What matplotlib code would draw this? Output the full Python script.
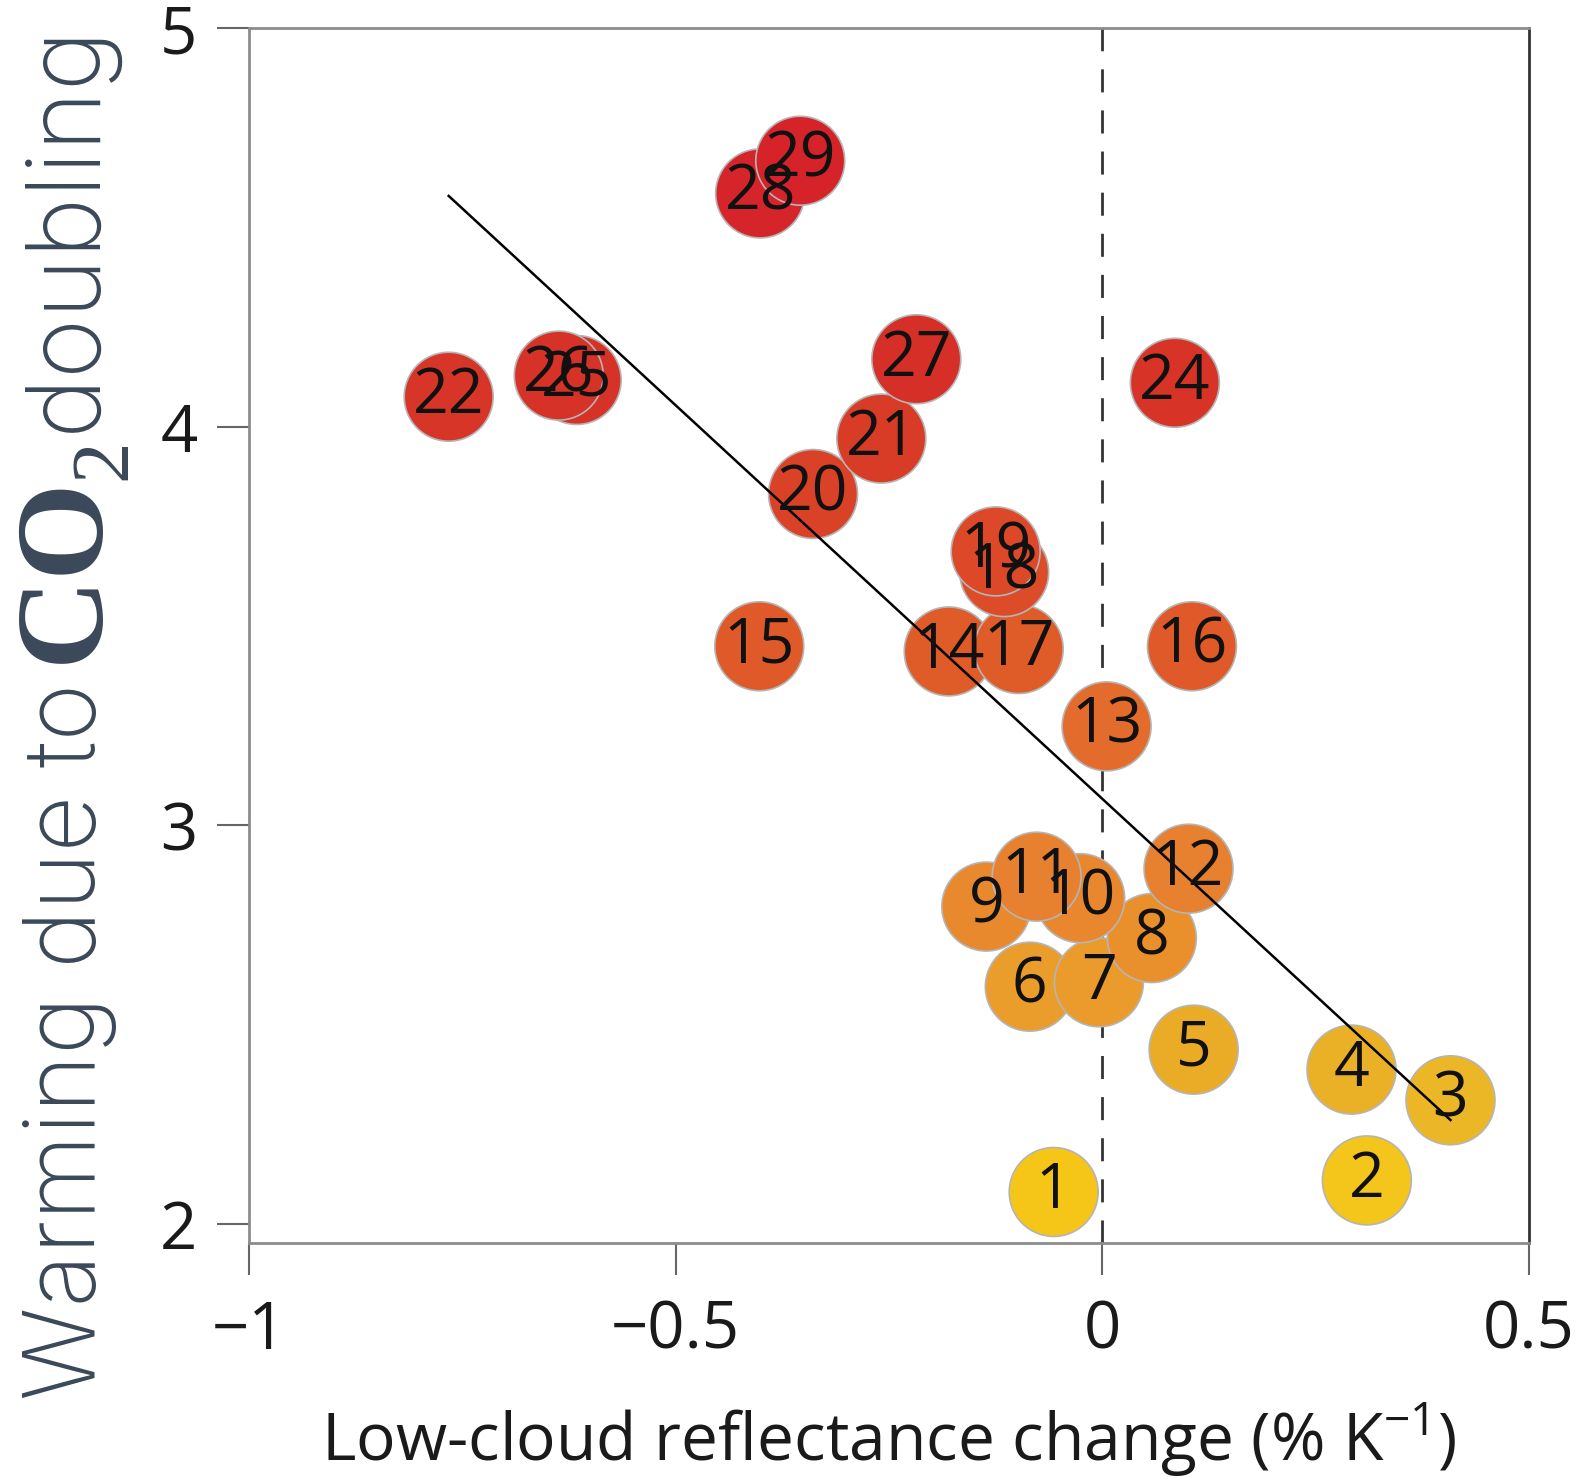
import numpy as np
import matplotlib.pyplot as plt
from matplotlib.colors import LinearSegmentedColormap

# model numbers (no 23 in the figure)
labels = [1, 2, 3, 4, 5, 6, 7, 8, 9, 10, 11, 12, 13, 14, 15, 16, 17, 18, 19,
          20, 21, 22, 24, 25, 26, 27, 28, 29]
# low-cloud reflectance change (% K^-1)
reflectance = [-0.057, 0.310, 0.408, 0.292, 0.107, -0.085, -0.004, 0.058,
               -0.136, -0.026, -0.077, 0.101, 0.005, -0.180, -0.402, 0.105,
               -0.098, -0.115, -0.125, -0.339, -0.259, -0.766, 0.085, -0.616,
               -0.637, -0.218, -0.401, -0.354]
# warming due to CO2 doubling (K)
warming = [2.080, 2.109, 2.310, 2.387, 2.437, 2.595, 2.606, 2.717,
           2.796, 2.817, 2.871, 2.891, 3.248, 3.436, 3.449, 3.449,
           3.442, 3.635, 3.687, 3.831, 3.970, 4.075, 4.110, 4.117,
           4.128, 4.169, 4.585, 4.667]

xticks = [-1, -0.5, 0, 0.5]
xticklabels = ["\u22121", "\u22120.5", "0", "0.5"]
yticks = [2, 3, 4, 5]

plt.rcParams["font.family"] = ["Open Sans", "DejaVu Sans"]
plt.rcParams["mathtext.fontset"] = "custom"
plt.rcParams["mathtext.rm"] = "Open Sans"

fig = plt.figure(figsize=(15.88, 14.84), dpi=100)
ax = fig.add_axes([249 / 1588, 1 - 1243 / 1484, 1280 / 1588, 1215 / 1484])

cmap = LinearSegmentedColormap.from_list("warm", [
    (0.00, "#f5c618"), (0.05, "#efbf26"), (0.12, "#eab026"),
    (0.20, "#eb9c2c"), (0.30, "#e7822f"), (0.45, "#e36c2c"),
    (0.53, "#df5a28"), (0.61, "#dc4a28"), (0.75, "#d83a27"),
    (0.80, "#d63027"), (1.00, "#d6232a")])
w = np.array(warming)
colors = cmap((w - w.min()) / (w.max() - w.min()))

ax.axvline(0, color="#333333", lw=2, dashes=(8.3, 6.5), zorder=1)
ax.scatter(reflectance, warming, s=4100, c=colors, edgecolors="#b5b5b5",
           linewidths=1.2, zorder=2)

coef = np.polyfit(reflectance, warming, 1)
xs = np.array([min(reflectance), max(reflectance)])
ax.plot(xs, np.polyval(coef, xs), color="black", lw=1.8, zorder=3)

for lab, x, y in zip(labels, reflectance, warming):
    ax.text(x, y, str(lab), ha="center", va="center", fontsize=45,
            color="#111111", zorder=4)

ax.set_xlim(-1, 0.5)
ax.set_ylim(1.952, 5)
ax.set_xticks(xticks)
ax.set_xticklabels(xticklabels)
ax.set_yticks(yticks)
ax.tick_params(length=23, width=1.5, color="#666666", labelsize=47,
               labelcolor="#1a1a1a")
ax.tick_params(axis="x", pad=17)
ax.tick_params(axis="y", pad=14)
for side in ["left", "bottom", "top"]:
    ax.spines[side].set_color("#8c8c8c")
    ax.spines[side].set_linewidth(2)
ax.spines["right"].set_color("#333333")
ax.spines["right"].set_linewidth(2)

ax.set_xlabel("Low-cloud reflectance change (% K$^{-1}$)", fontsize=47.5,
              color="#1a1a1a", va="top")
ax.xaxis.set_label_coords(0.5, -0.13)

# y label built from pieces: light sans text with a serif CO2
lab_color = "#3b4859"
def ylab_piece(s, x_px, y_px, **kw):
    fig.text(x_px / 1588, 1 - y_px / 1484, s, rotation=90,
             rotation_mode="anchor", ha="left", va="baseline",
             color=lab_color, **kw)

ylab_piece("Warming due to", 95, 1400, family=["Inter", "Lato"],
           fontweight="light", fontsize=71)
ylab_piece("CO", 97, 663, family=["Liberation Serif", "DejaVu Serif"],
           fontweight="bold", fontsize=90)
ylab_piece("2", 125, 480, family=["Liberation Serif", "DejaVu Serif"],
           fontsize=60)
ylab_piece("doubling", 95, 432, family=["Inter", "Lato"],
           fontweight="light", fontsize=74)

fig.savefig("out.png", dpi=100)
